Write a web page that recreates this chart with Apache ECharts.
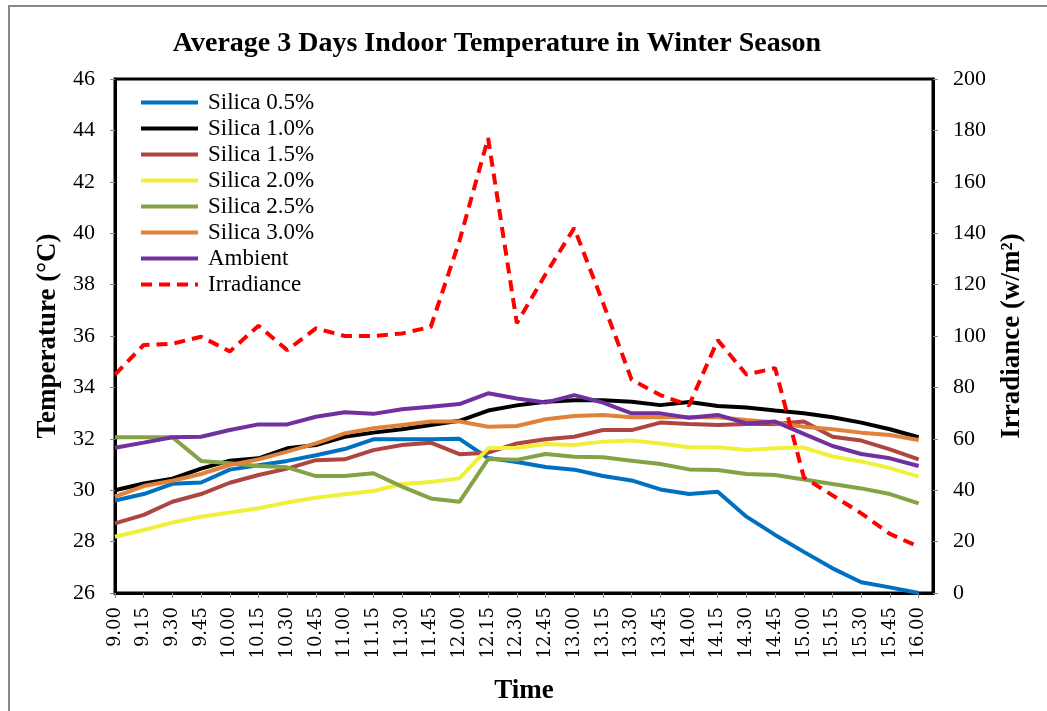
<!DOCTYPE html>
<html>
<head>
<meta charset="utf-8">
<script src="https://cdn.jsdelivr.net/npm/echarts@6/dist/echarts.min.js"></script>
<style>
  html, body { margin: 0; padding: 0; background: #fff; }
  #chart { width: 1047px; height: 711px; }
</style>
</head>
<body>
<div id="chart"></div>
<script>
const times = ['9.00', '9.15', '9.30', '9.45', '10.00', '10.15', '10.30', '10.45', '11.00', '11.15',
  '11.30', '11.45', '12.00', '12.15', '12.30', '12.45', '13.00', '13.15', '13.30', '13.45',
  '14.00', '14.15', '14.30', '14.45', '15.00', '15.15', '15.30', '15.45', '16.00']

const silica05 = [29.6, 29.85, 30.25, 30.3, 30.8, 30.97, 31.14, 31.36, 31.6, 31.98,
  31.98, 31.98, 32.0, 31.25, 31.1, 30.9, 30.8, 30.55, 30.38, 30.03,
  29.85, 29.94, 28.97, 28.26, 27.6, 26.96, 26.42, 26.22, 26.0]
const silica10 = [30.0, 30.26, 30.45, 30.84, 31.15, 31.24, 31.63, 31.76, 32.08, 32.24,
  32.37, 32.54, 32.7, 33.1, 33.3, 33.44, 33.5, 33.5, 33.44, 33.31,
  33.43, 33.28, 33.22, 33.1, 32.99, 32.84, 32.63, 32.37, 32.06]
const silica15 = [28.71, 29.04, 29.55, 29.85, 30.29, 30.59, 30.84, 31.17, 31.2, 31.56,
  31.76, 31.85, 31.4, 31.46, 31.82, 31.98, 32.08, 32.34, 32.34, 32.63,
  32.58, 32.54, 32.58, 32.58, 32.67, 32.08, 31.93, 31.59, 31.2]
const silica20 = [28.19, 28.45, 28.74, 28.97, 29.13, 29.3, 29.52, 29.71, 29.84, 29.97,
  30.24, 30.32, 30.46, 31.63, 31.65, 31.8, 31.76, 31.89, 31.93, 31.82,
  31.67, 31.67, 31.56, 31.63, 31.66, 31.31, 31.12, 30.86, 30.53]
const silica25 = [32.06, 32.06, 32.06, 31.14, 31.05, 30.94, 30.89, 30.55, 30.55, 30.66,
  30.14, 29.68, 29.55, 31.21, 31.18, 31.41, 31.3, 31.28, 31.15, 31.02,
  30.81, 30.79, 30.63, 30.59, 30.42, 30.24, 30.07, 29.85, 29.49]
const silica30 = [29.75, 30.16, 30.37, 30.63, 30.98, 31.2, 31.5, 31.82, 32.21, 32.41,
  32.54, 32.67, 32.67, 32.47, 32.5, 32.76, 32.89, 32.93, 32.84, 32.84,
  32.84, 32.84, 32.73, 32.63, 32.47, 32.37, 32.24, 32.15, 31.95]
const ambient = [31.65, 31.85, 32.06, 32.08, 32.34, 32.56, 32.56, 32.86, 33.03, 32.97,
  33.15, 33.25, 33.35, 33.77, 33.57, 33.41, 33.7, 33.41, 32.99, 32.99,
  32.82, 32.93, 32.6, 32.67, 32.19, 31.72, 31.41, 31.24, 30.94]
// irradiance, right axis (w/m2)
const irradiance = [85, 96.5, 97, 99.7, 94, 104, 94.5, 103, 100, 100,
  101, 103.5, 137, 177, 105, 124, 142, 113, 83, 77,
  73, 98.4, 85, 87.5, 45, 38, 31, 23, 18]

const font = 'Liberation Serif, Times New Roman, serif'
// the rotated time labels in the picture are drawn long and thin, a wide serif fits them better
const tickFont = 'DejaVu Serif, serif'

const chart = echarts.init(document.getElementById('chart'))

function pairs(arr) {
  return arr.map((v, i) => [i, v])
}

function tempSeries(name, data, color) {
  return {
    name: name,
    type: 'line',
    yAxisIndex: 0,
    symbol: 'none',
    data: pairs(data),
    lineStyle: {width: 4, color: color},
    itemStyle: {color: color}
  }
}

const nameStyle = {fontFamily: font, fontSize: 27, fontWeight: 'bold', color: '#000'}

chart.setOption({
  animation: false,
  textStyle: {fontFamily: font, color: '#000'},
  title: {
    text: 'Average 3 Days Indoor Temperature in Winter Season',
    left: 492,
    top: 25,
    textAlign: 'center',
    textStyle: {fontFamily: font, fontSize: 28, fontWeight: 'bold', color: '#000'}
  },
  graphic: [
    {
      type: 'rect',
      shape: {x: 9, y: 6, width: 1200, height: 900},
      style: {fill: 'none', stroke: '#888', lineWidth: 2},
      silent: true
    }
  ],
  legend: {
    orient: 'vertical',
    left: 134,
    top: 86,
    itemWidth: 57,
    itemHeight: 10,
    itemGap: 3,
    itemStyle: {opacity: 0},
    lineStyle: {width: 4},
    textStyle: {fontFamily: font, fontSize: 23, color: '#000', padding: [0, 0, 0, 5]}
  },
  grid: {
    left: 115,
    right: 114,
    top: 79,
    bottom: 118,
    outerBoundsMode: 'none',
    containLabel: false,
    show: true,
    borderColor: '#000',
    borderWidth: 3
  },
  xAxis: {
    type: 'value',
    min: 0,
    max: 28.5,
    interval: 1,
    name: 'Time',
    nameLocation: 'middle',
    nameGap: 85,
    nameTextStyle: nameStyle,
    axisLine: {lineStyle: {color: '#000', width: 3}},
    axisTick: {show: true, length: 5, lineStyle: {color: '#888'}},
    splitLine: {show: false},
    axisLabel: {
      rotate: 90,
      fontFamily: tickFont,
      fontSize: 18,
      color: '#000',
      margin: 14,
      showMaxLabel: false,
      formatter: function (v) {
        return Number.isInteger(v) && times[v] ? times[v] : ''
      }
    }
  },
  yAxis: [
    {
      type: 'value',
      min: 26,
      max: 46,
      interval: 2,
      name: 'Temperature (°C)',
      nameLocation: 'middle',
      nameRotate: 90,
      nameGap: 53,
      nameTextStyle: nameStyle,
      axisLine: {show: true, lineStyle: {color: '#000', width: 3}},
      axisTick: {show: true, length: 5, lineStyle: {color: '#888'}},
      splitLine: {show: false},
      axisLabel: {fontSize: 22, color: '#000', margin: 20}
    },
    {
      type: 'value',
      min: 0,
      max: 200,
      interval: 20,
      name: 'Irradiance (w/m²)',
      nameLocation: 'middle',
      nameRotate: 90,
      nameGap: 66,
      nameTextStyle: nameStyle,
      axisLine: {show: true, lineStyle: {color: '#000', width: 3}},
      axisTick: {show: true, length: 5, lineStyle: {color: '#888'}},
      splitLine: {show: false},
      axisLabel: {fontSize: 22, color: '#000', margin: 20}
    }
  ],
  series: [
    tempSeries('Silica 0.5%', silica05, '#0070C0'),
    tempSeries('Silica 1.0%', silica10, '#000000'),
    tempSeries('Silica 1.5%', silica15, '#AE4541'),
    tempSeries('Silica 2.0%', silica20, '#F0F03C'),
    tempSeries('Silica 2.5%', silica25, '#86A247'),
    tempSeries('Silica 3.0%', silica30, '#E2823A'),
    tempSeries('Ambient', ambient, '#7030A0'),
    {
      name: 'Irradiance',
      type: 'line',
      yAxisIndex: 1,
      symbol: 'none',
      data: pairs(irradiance),
      lineStyle: {width: 4, color: '#FF0000', type: [11, 7]},
      itemStyle: {color: '#FF0000'}
    }
  ]
})
</script>
</body>
</html>
